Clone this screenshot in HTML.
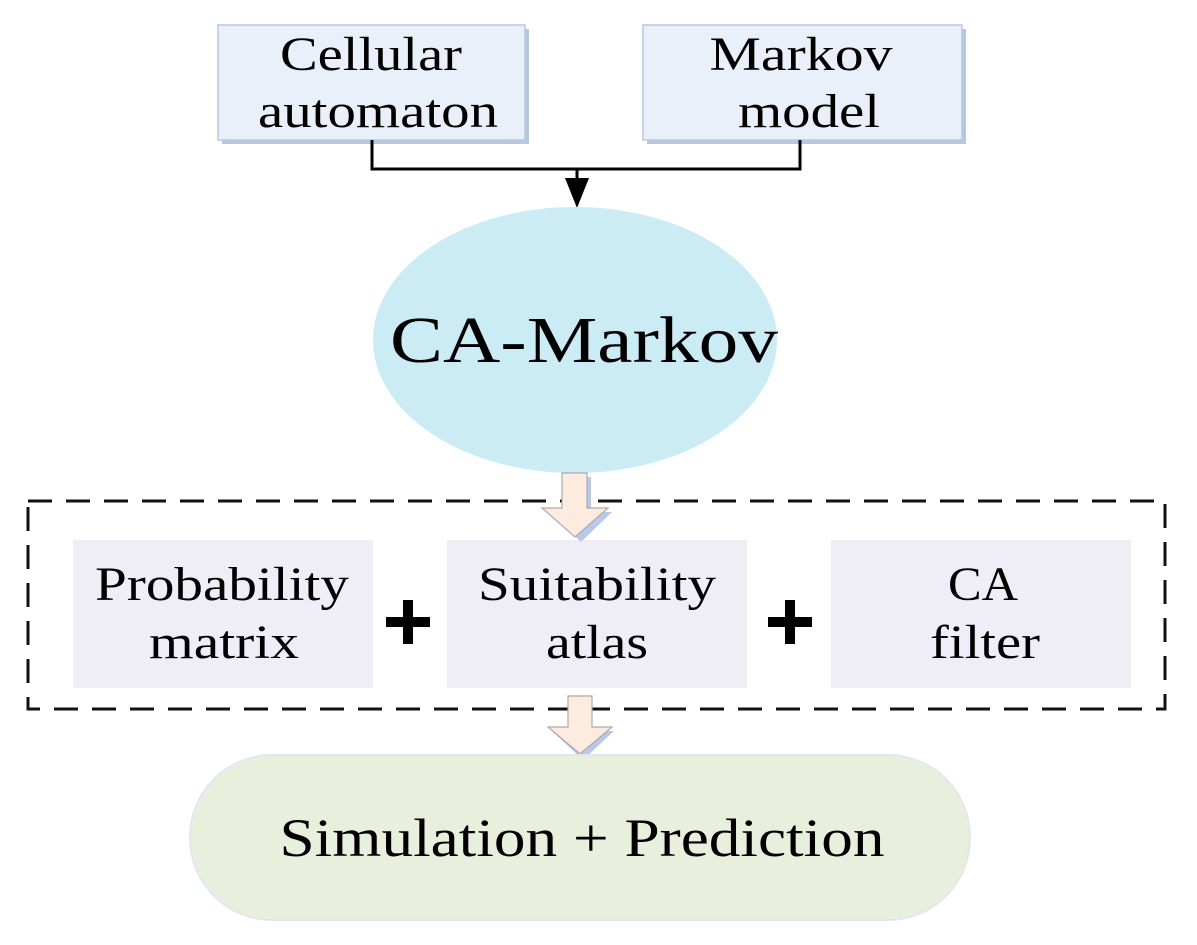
<!DOCTYPE html>
<html><head><meta charset="utf-8"><style>html,body{margin:0;padding:0;background:#fff}svg{display:block}</style></head>
<body>
<svg width="1197" height="945" viewBox="0 0 1197 945" xmlns="http://www.w3.org/2000/svg" font-family="Liberation Serif, serif">
<!-- top boxes -->
<rect x="222" y="29" width="307" height="115" fill="#b7c7e0"/>
<rect x="218" y="25" width="307" height="115" fill="#eaf0fa" stroke="#b8c8e2" stroke-width="1.5"/>
<rect x="647" y="29" width="319" height="115" fill="#b7c7e0"/>
<rect x="643" y="25" width="319" height="115" fill="#eaf0fa" stroke="#b8c8e2" stroke-width="1.5"/>
<g font-size="48" text-anchor="middle" fill="#000" lengthAdjust="spacingAndGlyphs">
<text x="371" y="70" textLength="182" lengthAdjust="spacingAndGlyphs">Cellular</text>
<text x="378" y="127" textLength="240" lengthAdjust="spacingAndGlyphs">automaton</text>
<text x="801" y="70" textLength="183" lengthAdjust="spacingAndGlyphs">Markov</text>
<text x="809" y="127" textLength="142" lengthAdjust="spacingAndGlyphs">model</text>
</g>
<!-- connector -->
<polyline points="372,140 372,169 800,169 800,140" fill="none" stroke="#000" stroke-width="3"/>
<line x1="577" y1="169" x2="577" y2="180" stroke="#000" stroke-width="3"/>
<polygon points="565,178 589,178 577,208" fill="#000"/>
<!-- ellipse -->
<ellipse cx="575" cy="340" rx="202" ry="133" fill="#cbebf5"/>
<text x="584" y="362" font-size="66" text-anchor="middle" textLength="388" lengthAdjust="spacingAndGlyphs">CA-Markov</text>
<!-- dashed container -->
<rect x="28" y="501" width="1137" height="208" fill="none" stroke="#111" stroke-width="3" stroke-dasharray="24,14"/>
<!-- inner boxes -->
<rect x="73" y="540" width="300" height="148" fill="#efeef7"/>
<rect x="447" y="540" width="300" height="148" fill="#efeef7"/>
<rect x="831" y="540" width="300" height="148" fill="#efeef7"/>
<g font-size="48" text-anchor="middle" fill="#000">
<text x="222" y="600" textLength="254" lengthAdjust="spacingAndGlyphs">Probability</text>
<text x="224" y="658" textLength="150" lengthAdjust="spacingAndGlyphs">matrix</text>
<text x="597" y="600" textLength="238" lengthAdjust="spacingAndGlyphs">Suitability</text>
<text x="597" y="658" textLength="102" lengthAdjust="spacingAndGlyphs">atlas</text>
<text x="983" y="600" textLength="70" lengthAdjust="spacingAndGlyphs">CA</text>
<text x="985" y="658" textLength="110" lengthAdjust="spacingAndGlyphs">filter</text>
</g>
<!-- plus signs -->
<g fill="#000">
<rect x="403" y="600" width="10" height="44"/><rect x="386" y="617" width="44" height="10"/>
<rect x="785" y="600" width="10" height="44"/><rect x="768" y="617" width="44" height="10"/>
</g>
<!-- hollow arrows -->
<g fill="#fdebe0" stroke="#aaa" stroke-width="1.2">
<polygon points="591,477 591,512 612,512 581,542 550,512 571,512 571,477" fill="#b8c8e6" stroke="none"/>
<polygon points="562,473 587,473 587,508 608,508 575,537 542,508 562,508"/>
<polygon points="592,701 592,731 614,731 583,760 552,731 574,731 574,701" fill="#b8c8e6" stroke="none"/>
<polygon points="568,696 592,696 592,727 612,727 580,754 548,727 568,727"/>
</g>
<!-- bottom rounded -->
<rect x="190" y="755" width="780" height="165" rx="82" ry="82" fill="#e8efdc" stroke="#e0e8ef" stroke-width="2"/>
<text x="582" y="856" font-size="54" text-anchor="middle" textLength="605" lengthAdjust="spacingAndGlyphs">Simulation + Prediction</text>
</svg>
</body></html>
